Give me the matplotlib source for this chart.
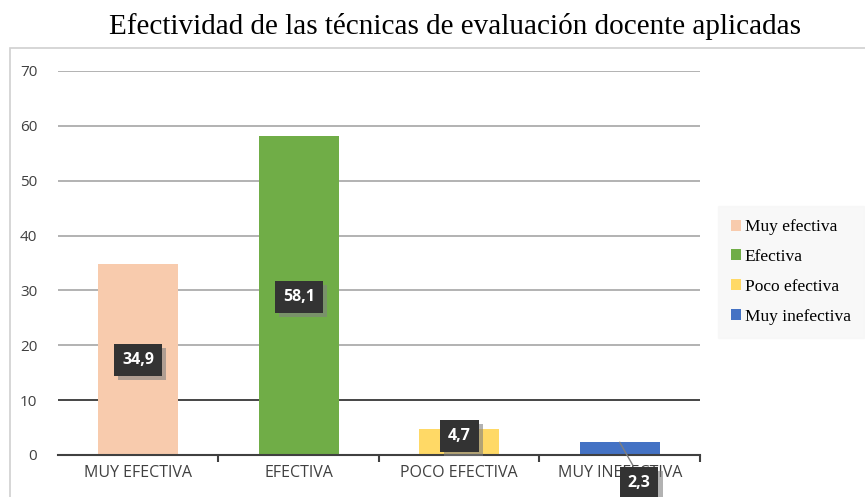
import matplotlib.pyplot as plt
import matplotlib.patheffects as pe
from matplotlib.patches import Rectangle, Patch

categorias = ["MUY EFECTIVA", "EFECTIVA", "POCO EFECTIVA", "MUY INEFECTIVA"]
leyenda = ["Muy efectiva", "Efectiva", "Poco efectiva", "Muy inefectiva"]
valores = [34.9, 58.1, 4.7, 2.3]
etiquetas = ["34,9", "58,1", "4,7", "2,3"]
colores = ["#F8CBAD", "#70AD47", "#FFD966", "#4472C4"]

fig = plt.figure(figsize=(8.65, 4.97), dpi=100)
fig.patch.set_facecolor("white")

# marco del grafico
fig.patches.append(Rectangle((10 / 865, -0.02), 0.99, (497 - 48) / 497 + 0.02,
                             transform=fig.transFigure, fill=False,
                             edgecolor="#D0D0D0", linewidth=1.2))

fig.text(0.526, 0.947, "Efectividad de las técnicas de evaluación docente aplicadas",
         ha="center", va="center", fontsize=21, family="Liberation Serif")

ax = fig.add_axes([58 / 865, 42 / 497, 642 / 865, 384 / 497])
x = list(range(len(categorias)))
ax.bar(x, valores, width=0.5, color=colores, zorder=3)
ax.set_xlim(-0.5, len(categorias) - 0.5)
ax.set_ylim(0, 70)
ax.set_yticks(range(0, 71, 10))
for y in range(10, 71, 10):
    ax.axhline(y, color="#262626" if y == 10 else "#A6A6A6", lw=1.2, zorder=1)
for s in ["top", "right", "left"]:
    ax.spines[s].set_visible(False)
ax.spines["bottom"].set_color("#404040")
ax.spines["bottom"].set_linewidth(1.5)
ax.spines["bottom"].set_zorder(4)
ax.set_xticks(x)
ax.set_xticklabels(categorias, fontsize=11.5, color="#404040", family="Open Sans")
ax.tick_params(axis="x", length=0, pad=7)
ax.set_xticks([i + 0.5 for i in x], minor=True)
ax.tick_params(axis="x", which="minor", length=5, width=1.5, color="#404040")
ax.tick_params(axis="y", length=0, labelsize=11, labelcolor="#404040", pad=15)
for lbl in ax.get_yticklabels():
    lbl.set_family("Open Sans")

# etiquetas de datos
pos = [(0, 17.3), (1, 28.8), (2, 3.5), (3.12, -5.1)]
for (px, py), t in zip(pos, etiquetas):
    txt = ax.text(px, py, t, ha="center", va="center", fontsize=11.5,
                  fontweight="bold", color="white", family="Open Sans", zorder=6,
                  bbox=dict(boxstyle="square,pad=0.5", fc="#333333", ec="none"),
                  clip_on=False)
    txt.get_bbox_patch().set_path_effects(
        [pe.SimplePatchShadow(offset=(3, -3), shadow_rgbFace="#808080", alpha=0.6),
         pe.Normal()])
ax.plot([3, 3.08], [valores[3], -1.8], color="#7F7F7F", lw=1, zorder=5, clip_on=False)

handles = [Patch(facecolor=c, edgecolor="none") for c in colores]
leg = fig.legend(handles, leyenda, loc="center left", bbox_to_anchor=(723 / 865, 1 - 272 / 497),
                 prop={"family": "Liberation Serif", "size": 12.5}, frameon=True,
                 handlelength=0.6, handleheight=0.6, handletextpad=0.2,
                 labelspacing=0.8, borderpad=0.45, borderaxespad=0)
leg.get_frame().set_facecolor("#F7F7F7")
leg.get_frame().set_edgecolor("#F7F7F7")
leg.get_frame().set_boxstyle("square")

fig.savefig("out.png", dpi=100)
